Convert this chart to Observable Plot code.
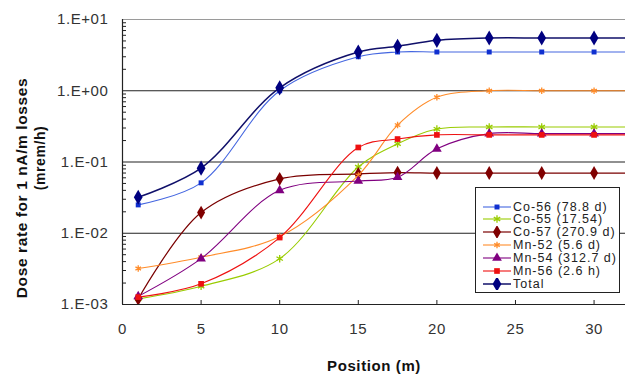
<!DOCTYPE html>
<html>
<head>
<meta charset="utf-8">
<script src="https://cdn.jsdelivr.net/npm/d3@7"></script>
<script src="https://cdn.jsdelivr.net/npm/@observablehq/plot@0.6"></script>
<style>
  html, body { margin: 0; padding: 0; background: #fff; }
  #wrap { position: relative; width: 625px; height: 375px; font-family: "Liberation Sans", Arial, sans-serif; }
  #legend { position: absolute; left: 475px; top: 187px; width: 145px; height: 106px; border: 1px solid #222; background: #fff; box-sizing: border-box; }
  .row { position: absolute; left: 0; height: 12px; display: flex; align-items: center; }
  .row svg { margin-left: 7px; }
  .row span { display: inline-block; margin-left: 2px; font-size: 12.5px; line-height: 12px; height: 12px; overflow: visible; color: #222; letter-spacing: 1px; white-space: nowrap; }
</style>
</head>
<body>
<div id="wrap"><div id="legend"></div></div>
<script>
// ---- data ----
const positions = [1, 5, 10, 15, 17.5, 20, 23.33, 26.67, 30, 33.33];
const co56  = [0.025, 0.051, 1.0, 3.0, 3.5, 3.5, 3.5, 3.5, 3.5, 3.5];
const co55  = [0.0012, 0.0018, 0.0044, 0.085, 0.18, 0.29, 0.31, 0.31, 0.31, 0.31];
const co57  = [0.0012, 0.0195, 0.058, 0.068, 0.071, 0.07, 0.07, 0.07, 0.07, 0.07];
const mn52  = [0.0032, 0.0046, 0.009, 0.065, 0.33, 0.81, 1.0, 1.0, 1.0, 1.0];
const mn54  = [0.0013, 0.0044, 0.04, 0.054, 0.061, 0.153, 0.25, 0.25, 0.25, 0.25];
const mn56  = [0.00127, 0.00195, 0.0087, 0.16, 0.21, 0.24, 0.24, 0.24, 0.24, 0.24];
const total = [0.032, 0.082, 1.1, 3.5, 4.2, 5.1, 5.5, 5.5, 5.5, 5.5];

const seriesNames = ["Co-56 (78.8 d)", "Co-55 (17.54)", "Co-57 (270.9 d)", "Mn-52 (5.6 d)", "Mn-54 (312.7 d)", "Mn-56 (2.6 h)", "Total"];
const seriesValues = [co56, co55, co57, mn52, mn54, mn56, total];

const yTicks = [1e-3, 1e-2, 1e-1, 1, 10];
const xTicks = [0, 5, 10, 15, 20, 25, 30];
const xTitle = "Position (m)";
const yTitle1 = "Dose rate for 1 nA/m losses";
const yTitle2 = "(mrem/h)";

// ---- styles ----
const styles = [
  {line: "#4466e0", fill: "#1030d0", symbol: "square", r: 2.8, w: 1.1},
  {line: "#99cc00", fill: "#99cc00", symbol: "asterisk", r: 3.5, w: 1.1, strokeSym: true},
  {line: "#7a0000", fill: "#800000", symbol: "diamond", r: 4.2, w: 1.2},
  {line: "#ff8c2a", fill: "#ff8c2a", symbol: "asterisk", r: 3, w: 1.1, strokeSym: true},
  {line: "#800080", fill: "#800080", symbol: "triangle", r: 3.6, w: 1.1},
  {line: "#ee1111", fill: "#ee1111", symbol: "square", r: 3.2, w: 1.1},
  {line: "#10106a", fill: "#000080", symbol: "diamond", r: 4.6, w: 1.5}
];

const rows = [];
seriesNames.forEach((name, i) => {
  positions.forEach((p, j) => rows.push({series: name, idx: i, x: p, y: seriesValues[i][j]}));
});

const minor = [];
for (let e = -3; e < 1; e++) for (let m = 2; m <= 9; m++) minor.push(m * Math.pow(10, e));

const fmt = d => {
  const e = Math.round(Math.log10(d));
  return "1.E" + (e >= 0 ? "+" : "-") + String(Math.abs(e)).padStart(2, "0");
};

const W = 625, H = 375, mL = 122, mR = 0, mT = 19, mB = 71;
const frameW = W - mL - mR, frameH = H - mT - mB;

const marks = [
  Plot.ruleY([10], {stroke: "#9a9a9a", strokeWidth: 1.2}),
  Plot.ruleY([1e-2, 1e-1, 1], {stroke: "#222", strokeWidth: 1.2}),
  Plot.ruleY([1e-3], {stroke: "#222", strokeWidth: 1.2}),
  Plot.ruleX([0], {stroke: "#222", strokeWidth: 1.2}),
  Plot.tickY(minor, {y: d => d, insetRight: frameW - 4, stroke: "#222"}),
  Plot.tickX(xTicks.slice(1), {x: d => d, insetTop: frameH - 4, stroke: "#222"}),
  Plot.axisY({ticks: yTicks, tickFormat: fmt, tickSize: 0, tickPadding: 14, fontSize: 15, label: null}),
  Plot.axisX({ticks: xTicks, tickSize: 0, tickPadding: 19, fontSize: 15, label: null}),
  Plot.text([xTitle], {frameAnchor: "bottom", dy: 62, lineAnchor: "middle", fontWeight: "bold", fontSize: 15, fill: "#111"}),
  Plot.text([yTitle1], {frameAnchor: "left", dx: -100, dy: 26, rotate: -90, textAnchor: "middle", lineAnchor: "middle", fontWeight: "bold", fontSize: 15.5, fill: "#111"}),
  Plot.text([yTitle2], {frameAnchor: "left", dx: -82, dy: -4, rotate: -90, textAnchor: "middle", lineAnchor: "middle", fontWeight: "bold", fontSize: 14, fill: "#111"})
];

seriesNames.forEach((name, i) => {
  const st = styles[i];
  const data = rows.filter(r => r.idx === i);
  marks.push(Plot.line(data, {x: "x", y: "y", stroke: st.line, strokeWidth: st.w, curve: "catmull-rom", clip: true}));
  if (st.strokeSym) {
    marks.push(Plot.dot(data, {x: "x", y: "y", symbol: st.symbol, r: st.r, stroke: st.fill, strokeWidth: 1.3, fill: "none", clip: true}));
  } else {
    marks.push(Plot.dot(data, {x: "x", y: "y", symbol: st.symbol, r: st.r, fill: st.fill, stroke: "none", clip: true}));
  }
});

const chart = Plot.plot({
  width: W, height: H,
  marginLeft: mL, marginRight: mR, marginTop: mT, marginBottom: mB,
  style: {fontFamily: "'Liberation Sans', Arial, sans-serif", color: "#333", background: "#fff", letterSpacing: "0.6px"},
  x: {domain: [0, 32]},
  y: {type: "log", domain: [1e-3, 10]},
  marks
});
document.getElementById("wrap").prepend(chart);

// ---- legend ----
const legend = d3.select("#legend");
const symMap = {square: d3.symbolSquare, diamond: d3.symbolDiamond, triangle: d3.symbolTriangle, asterisk: d3.symbolAsterisk};
seriesNames.forEach((name, i) => {
  const st = styles[i];
  const row = legend.append("div").attr("class", "row").style("top", (12.5 + 12.9 * i) + "px");
  const svg = row.append("svg").attr("width", 28).attr("height", 12);
  svg.append("line").attr("x1", 0).attr("x2", 28).attr("y1", 6).attr("y2", 6)
    .attr("stroke", st.line).attr("stroke-width", st.w);
  const p = d3.symbol(symMap[st.symbol], st.r * st.r * Math.PI)();
  const s = svg.append("path").attr("d", p).attr("transform", "translate(14,6)");
  if (st.strokeSym) s.attr("fill", "none").attr("stroke", st.fill).attr("stroke-width", 1.3);
  else s.attr("fill", st.fill);
  row.append("span").text(name);
});
</script>
</body>
</html>
